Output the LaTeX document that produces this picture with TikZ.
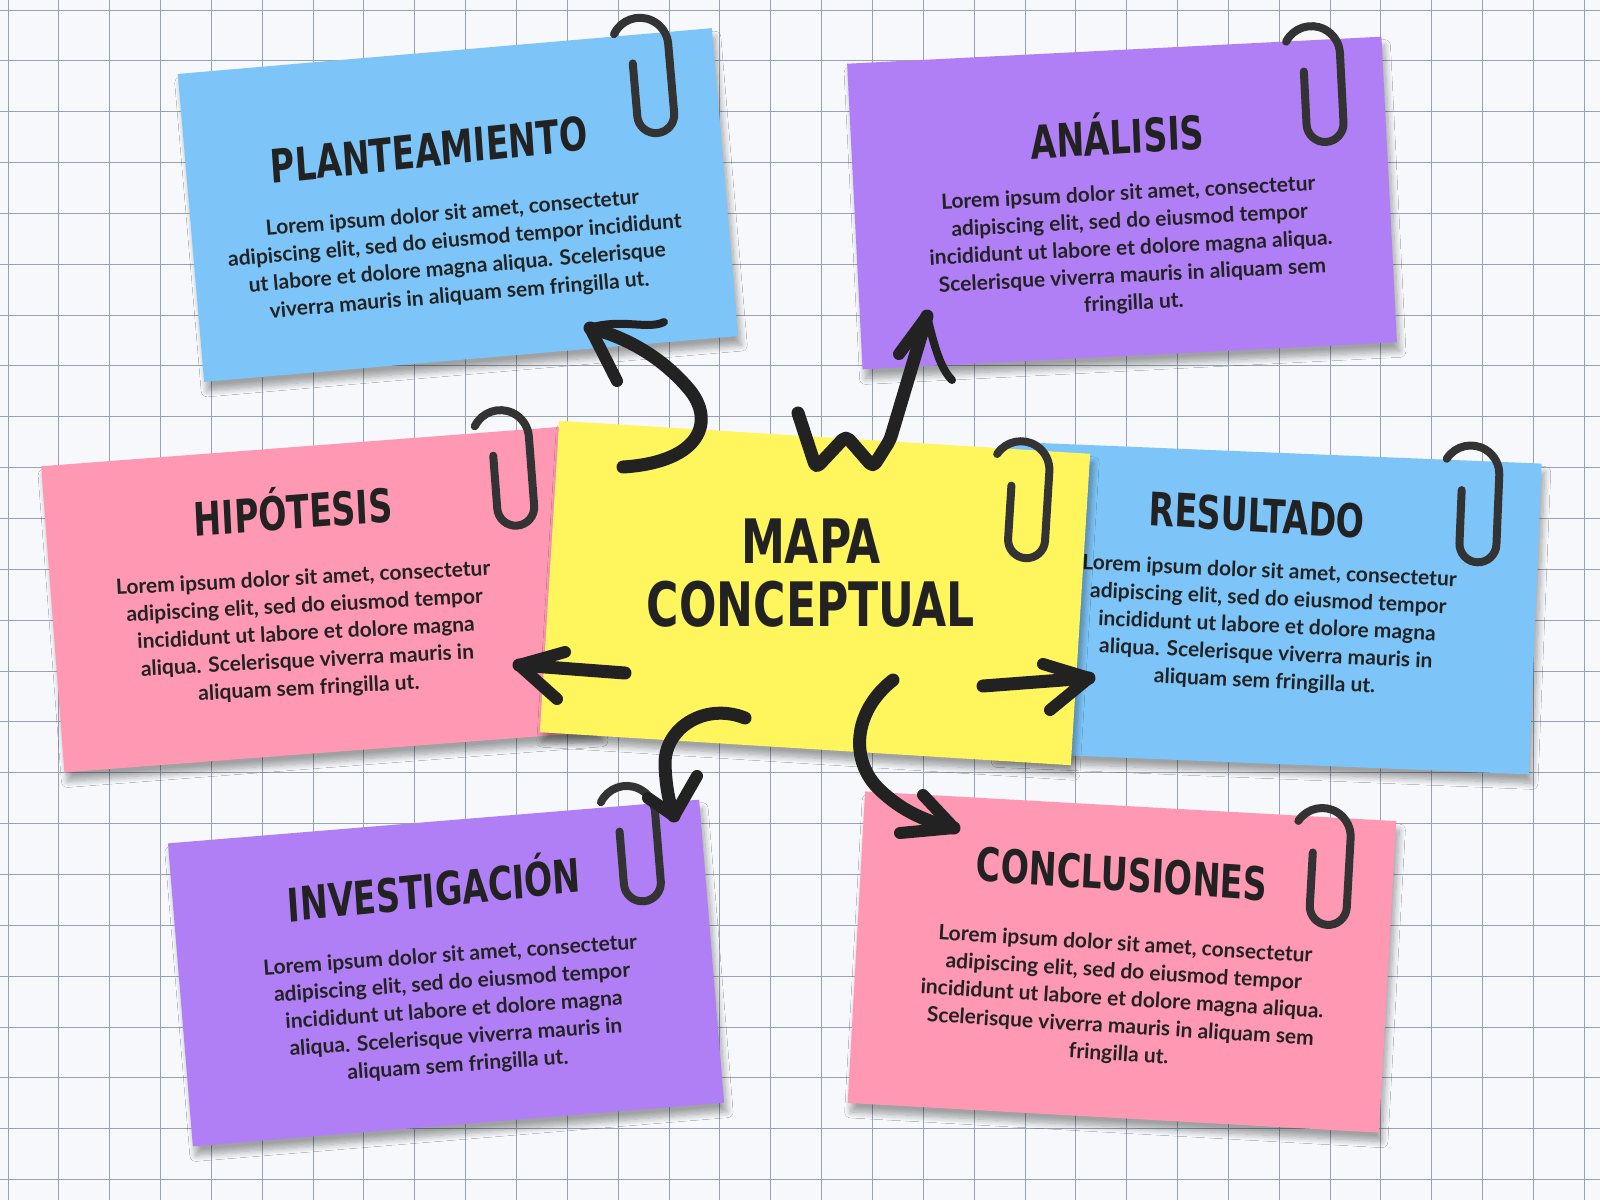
\documentclass[tikz,border=0pt]{standalone}
\usepackage{fontspec}
\setmainfont{Lato}
\newfontfamily\titlefont{DejaVuSansCondensed-Bold.ttf}
\usetikzlibrary{shadows.blur}

\definecolor{paper}{HTML}{F6F8FB}
\definecolor{gridgray}{HTML}{98A2B0}
\definecolor{noteblue}{HTML}{7DC5F8}
\definecolor{notepurple}{HTML}{B07FF6}
\definecolor{notepink}{HTML}{FF98B2}
\definecolor{noteyellow}{HTML}{FFF55C}
\definecolor{ink}{HTML}{222222}
\definecolor{clipgray}{HTML}{333333}

\def\loremA{Lorem ipsum dolor sit amet, consectetur\\adipiscing elit, sed do eiusmod tempor\\incididunt ut labore et dolore magna\\aliqua. Scelerisque viverra mauris in\\aliquam sem fringilla ut.}
\def\loremB{Lorem ipsum dolor sit amet, consectetur\\adipiscing elit, sed do eiusmod tempor\\incididunt ut labore et dolore magna aliqua.\\Scelerisque viverra mauris in aliquam sem\\fringilla ut.}

\tikzset{
	note/.style={inner sep=0pt, blur shadow={shadow xshift=3pt, shadow yshift=-9pt, shadow blur radius=6pt, shadow opacity=35, shadow blur steps=10}},
	notetitle/.style={text=ink, inner sep=0pt, yscale=1.25, font=\titlefont\fontsize{37}{40}\selectfont},
	notebody/.style={text=ink, inner sep=0pt, align=center, font=\bfseries\fontsize{21}{27.5}\selectfont},
	brush/.style={draw=ink, line width=13pt, line cap=round, line join=round},
	barb/.style={draw=ink, line width=12pt, line cap=round},
	paperclip/.pic={\draw[clipgray, line width=8pt, line cap=round] (11.8,26.3) arc[start angle=210, end angle=360, radius=28.5] -- (65,110) arc[start angle=0, end angle=180, radius=18.5] -- (28,57);}
}

\begin{document}
\begin{tikzpicture}[x=1pt, y=-1pt]
			%%%%% START %%%%%
			
			\fill[paper] (0,0) rectangle (1600,1200);
			\useasboundingbox (0,0) rectangle (1600,1200);
			
			\foreach \i in {0,...,31}
				\draw[gridgray, line width=1pt] ({8+50.85*\i},0) -- ({8+50.85*\i},1200);
			\foreach \j in {0,...,23}
				\draw[gridgray, line width=1pt] (0,{10+50.85*\j}) -- (1600,{10+50.85*\j});
			
			% notes, back to front
			\node[note, fill=noteblue, minimum width=536pt, minimum height=309pt, rotate=4.9] (plant) at (458,205) {};
			\pic[rotate=4.9] at (600,9) {paperclip};
			\node[notetitle, rotate=4.9] (planttitle) at (429,150) {PLANTEAMIENTO};
			\node[notebody, rotate=4.9] (plantbody) at (456,255) {Lorem ipsum dolor sit amet, consectetur\\adipiscing elit, sed do eiusmod tempor incididunt\\ut labore et dolore magna aliqua. Scelerisque\\viverra mauris in aliquam sem fringilla ut.};
			
			\node[note, fill=notepurple, minimum width=535pt, minimum height=306pt, rotate=2.9] (anal) at (1122,203) {};
			\pic[rotate=2.9] at (1273,16) {paperclip};
			\node[notetitle, rotate=2.9] (analtitle) at (1117,133) {ANÁLISIS};
			\node[notebody, rotate=2.9] (analbody) at (1131,249) {\loremB};
			
			\node[note, fill=notepink, minimum width=536pt, minimum height=307pt, rotate=4.35] (hipo) at (320,599) {};
			\pic[rotate=4.35] at (461,401) {paperclip};
			\node[notetitle, rotate=3.5] (hipotitle) at (293,508) {HIPÓTESIS};
			\node[notebody, rotate=3] (hipobody) at (306,634) {\loremA};
			
			\node[note, fill=noteblue, minimum width=535pt, minimum height=311pt, rotate=-2.35] (resul) at (1268,608) {};
			\pic[rotate=-2.35] at (1436,432) {paperclip};
			\node[notetitle, rotate=-2.8] (resultitle) at (1257,515) {RESULTADO};
			\node[notebody, rotate=-2.6] (resulbody) at (1267,627) {\loremA};
			
			\node[note, fill=noteyellow, minimum width=532pt, minimum height=312pt, rotate=-3.56] (mapa) at (815,593) {};
			\pic[rotate=-3.56] at (987,427) {paperclip};
			\node[notetitle, align=center, font=\titlefont\fontsize{49}{50}\selectfont] (mapatitle) at (811,573) {MAPA\\CONCEPTUAL};
			
			\node[note, fill=notepurple, minimum width=533pt, minimum height=304pt, rotate=4.7] (inves) at (446,973) {};
			\pic[rotate=4.7] at (587,777) {paperclip};
			\node[notetitle, rotate=4.7] (investitle) at (434,886) {INVESTIGACIÓN};
			\node[notebody, rotate=4] (invesbody) at (454,1011) {\loremA};
			
			\node[note, fill=notepink, minimum width=532pt, minimum height=312pt, rotate=-3.2] (concl) at (1122,962) {};
			\pic[rotate=-3.2] at (1288,794) {paperclip};
			\node[notetitle, rotate=-3.2] (concltitle) at (1122,874) {CONCLUSIONES};
			\node[notebody, rotate=-3.5] (conclbody) at (1122,1000) {\loremB};
			
			% arrow ends
			\coordinate (plantstart) at (623,467);
			\coordinate (plantend) at (590,328);
			\coordinate (analstart) at (798,413);
			\coordinate (analend) at (927,316);
			\coordinate (hipostart) at (625,673);
			\coordinate (hipoend) at (519,665);
			\coordinate (resulstart) at (983,686);
			\coordinate (resulend) at (1089,678);
			\coordinate (invesstart) at (745,718);
			\coordinate (invesend) at (674,816);
			\coordinate (conclstart) at (893,680);
			\coordinate (conclend) at (954,828);
			
			% arrows
			\draw[brush] (plantstart) .. controls (702,462) and (716,420) .. (688,388) .. controls (664,360) and (630,338) .. (plantend);
			\draw[barb] (plantend) -- (617,381);
			\draw[barb, line width=8pt] (plantend) .. controls (620,318) and (648,330) .. (664,322);
			
			\draw[brush, rounded corners=5pt] (analstart) -- (816,468) -- (846,436) -- (873,467) -- (890,440) -- (analend);
			\draw[barb] (analend) -- (899,354);
			\draw[barb, line width=8pt] (analend) .. controls (934,345) and (940,368) .. (952,380);
			
			\draw[brush] (hipostart) -- (hipoend);
			\draw[barb] (hipoend) -- (565,652);
			\draw[barb] (hipoend) -- (557,699);
			
			\draw[brush] (resulstart) -- (resulend);
			\draw[barb] (resulend) -- (1043,664);
			\draw[barb] (resulend) -- (1050,710);
			
			\draw[brush] (invesstart) .. controls (705,702) and (664,728) .. (665,765) .. controls (666,790) and (670,805) .. (invesend);
			\draw[barb] (invesend) -- (697,776);
			\draw[barb] (invesend) -- (648,798);
			
			\draw[brush] (conclstart) .. controls (852,712) and (850,762) .. (880,790) .. controls (903,812) and (928,822) .. (conclend);
			\draw[barb] (conclend) -- (923,795);
			\draw[barb] (conclend) -- (900,833);
			
			%%%%% END %%%%%
\end{tikzpicture}
\end{document}
